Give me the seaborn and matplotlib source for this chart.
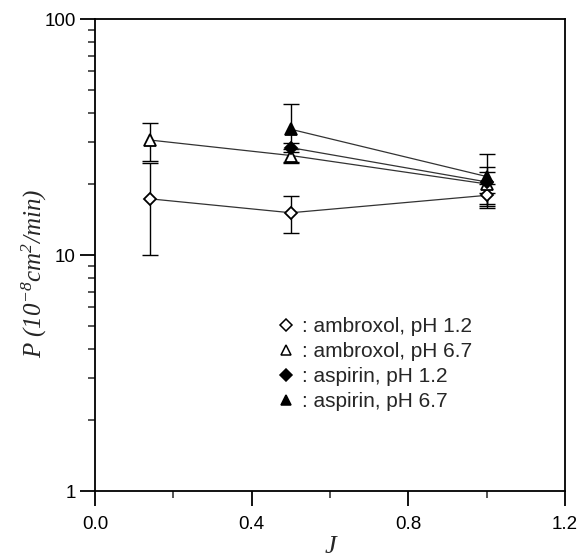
import matplotlib
matplotlib.use("Agg")
import matplotlib.pyplot as plt
import seaborn as sns
import pandas as pd
import numpy as np
from matplotlib.lines import Line2D
from matplotlib.ticker import FixedLocator, NullFormatter

# data
amb12_x = [0.14, 0.5, 1.0]
amb12_y = [17.3, 15.1, 17.9]
amb12_e = [7.3, 2.7, 2.1]

amb67_x = [0.14, 0.5, 1.0]
amb67_y = [30.7, 26.4, 20.0]
amb67_e = [5.6, 1.6, 3.5]

asp12_x = [0.5, 1.0]
asp12_y = [28.5, 20.4]
asp12_e = [1.2, 2.0]

asp67_x = [0.5, 1.0]
asp67_y = [34.1, 21.5]
asp67_e = [9.5, 5.3]

labels = [": ambroxol, pH 1.2", ": ambroxol, pH 6.7", ": aspirin, pH 1.2", ": aspirin, pH 6.7"]
xticks = [0.0, 0.4, 0.8, 1.2]
xticklabels = ["0.0", "0.4", "0.8", "1.2"]
yticks = [1, 10, 100]
yticklabels = ["1", "10", "100"]

sns.set_style("ticks")
plt.rcParams['font.family'] = ['Liberation Sans', 'DejaVu Sans']
plt.rcParams['mathtext.fontset'] = 'custom'
plt.rcParams['mathtext.it'] = 'Liberation Serif:italic'
plt.rcParams['mathtext.rm'] = 'Liberation Serif:italic'
plt.rcParams['mathtext.default'] = 'it'

fig = plt.figure(figsize=(5.81, 5.57), dpi=100)
ax = fig.add_axes([95/581, 1 - 491/557, (565-95)/581, (491-19)/557])

series = [
    (amb12_x, amb12_y, amb12_e, 'D', 'white', 6.5),
    (amb67_x, amb67_y, amb67_e, '^', 'white', 8),
    (asp12_x, asp12_y, asp12_e, 'D', 'black', 6.5),
    (asp67_x, asp67_y, asp67_e, '^', 'black', 8),
]
handles = []
for (x, y, e, m, fc, ms), lab in zip(series, labels):
    df = pd.DataFrame({"J": x, "P": y})
    ax.errorbar(x, y, yerr=e, fmt='none', ecolor='black', elinewidth=1.0,
                capsize=6, capthick=1.0, zorder=2)
    sns.lineplot(data=df, x="J", y="P", ax=ax, color='#333333', linewidth=0.9,
                 marker=m, markersize=ms, markerfacecolor=fc,
                 markeredgecolor='black', markeredgewidth=1.3, zorder=3)
    handles.append(Line2D([], [], linestyle='none', marker=m, markersize=ms*0.95,
                          markerfacecolor=fc, markeredgecolor='black',
                          markeredgewidth=1.1, label=lab))

ax.set_yscale('log')
ax.set_ylim(1, 100)
ax.set_xlim(0, 1.2)
ax.set_xticks(xticks)
ax.set_xticklabels(xticklabels)
ax.xaxis.set_minor_locator(FixedLocator([0.2, 0.6, 1.0]))
ax.set_yticks(yticks)
ax.set_yticklabels(yticklabels)
ax.yaxis.set_minor_locator(FixedLocator([v * d for d in (1, 10) for v in range(2, 10)]))
ax.yaxis.set_minor_formatter(NullFormatter())
ax.tick_params(axis='both', which='major', direction='out', length=11, width=1.3,
               labelsize=13.5, colors='black', pad=3)
ax.tick_params(axis='x', which='major', pad=7)
ax.tick_params(axis='both', which='minor', direction='out', length=5, width=1.1)
for s in ax.spines.values():
    s.set_linewidth(1.3)
    s.set_color('black')

ax.set_xlabel("J", fontsize=19, fontstyle='italic', family='Liberation Serif', labelpad=2)
ax.set_ylabel(r"P (10$^{-8}$cm$^{2}$/min)", fontsize=18, fontstyle='italic',
              family='Liberation Serif')
ax.yaxis.set_label_coords(-0.097, 0.46)

leg = ax.legend(handles=handles, loc='upper left', bbox_to_anchor=(0.367, 0.39),
                frameon=False, fontsize=15, handlelength=0.8, handletextpad=0.35,
                labelspacing=0.28, borderpad=0)

fig.savefig("out.png", dpi=100)
